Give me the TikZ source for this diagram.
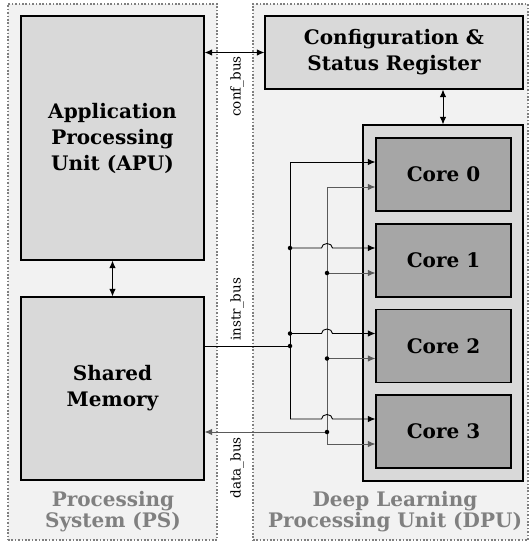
\documentclass[tikz,border=0pt]{standalone}
\usepackage{fontspec}
\setmainfont{DejaVu Serif}
\usetikzlibrary{arrows.meta,calc}
\definecolor{contf}{HTML}{F2F2F2}
\definecolor{boxf}{HTML}{D9D9D9}
\definecolor{coref}{HTML}{A6A6A6}
\definecolor{titlec}{HTML}{808080}
\definecolor{datac}{HTML}{5A5A5A}
\definecolor{dotc}{HTML}{7F7F7F}
\begin{document}
\begin{tikzpicture}[x=1pt,y=-1pt,
  container/.style={draw=dotc, line width=1.2pt, dash pattern=on 1.6pt off 1.8pt, fill=contf, inner sep=0pt},
  blk/.style={draw=black, line width=1.2pt, fill=boxf, inner sep=0pt, align=center, font=\bfseries\fontsize{20}{26}\selectfont},
  corebox/.style={blk, fill=coref},
  ttl/.style={text=titlec, align=center, font=\bfseries\fontsize{20}{21}\selectfont, inner sep=0pt},
  lbl/.style={rotate=90, inner sep=1pt, font=\fontsize{13.5}{16}\selectfont},
  ln/.style={line width=0.9pt, black},
  arr/.style={ln, -{Latex[length=7.5pt,width=6.5pt]}},
  barr/.style={ln, {Latex[length=7.5pt,width=6.5pt]}-{Latex[length=7.5pt,width=6.5pt]}},
  dln/.style={line width=0.9pt, datac},
  darr/.style={dln, -{Latex[length=7.5pt,width=6.5pt]}},
  jdot/.style={circle, fill=black, inner sep=0pt, minimum size=4.5pt}
]
\useasboundingbox (0,0) rectangle (530,544);
\fill[white] (0,0) rectangle (530,544);

% containers
\node[container, minimum width=209pt, minimum height=536pt] (ps) at (112.5,272) {};
\node[container, minimum width=275pt, minimum height=536pt] (dpu) at (390.5,272) {};

% blocks
\node[blk, minimum width=183pt, minimum height=244pt] (apu) at (112.5,138) {Application\\Processing\\Unit (APU)};
\node[blk, minimum width=183pt, minimum height=183pt] (sm) at (112.5,388.5) {Shared\\Memory};
\node[blk, minimum width=258pt, minimum height=73pt] (csr) at (394,52.5) {Configuration \&\\Status Register};
\node[blk, minimum width=160pt, minimum height=356pt] (cores) at (443,303) {};
\node[corebox, minimum width=135pt, minimum height=73pt] (core0) at (443.5,174.5) {Core 0};
\node[corebox, minimum width=135pt, minimum height=73pt] (core1) at (443.5,260.5) {Core 1};
\node[corebox, minimum width=135pt, minimum height=73pt] (core2) at (443.5,346) {Core 2};
\node[corebox, minimum width=135pt, minimum height=73pt] (core3) at (443.5,431.5) {Core 3};

% titles
\node[ttl] (pst) at (113,512) {Processing\\System (PS)};
\node[ttl] (dput) at (395,512) {Deep Learning\\Processing Unit (DPU)};

% core input points
\foreach \i in {0,1,2,3}{
  \coordinate (c\i a) at ([yshift=12.5pt]core\i.west);
  \coordinate (c\i b) at ([yshift=-12.5pt]core\i.west);
}
\coordinate (ib) at (290,346);
\coordinate (db) at (327,432);

% conf bus & links
\draw[barr] (apu.east |- csr.west) -- (csr.west);
\draw[barr] (apu.south) -- (sm.north);
\draw[barr] (cores.north |- csr.south) -- (cores.north);

% data bus
\draw[darr] (db) -- (sm.east |- db);
\draw[darr] (db) |- (c0b);
\draw[darr] (db) |- (c3b);
\draw[darr] (db |- c1b) -- (c1b);
\draw[darr] (db |- c2b) -- (c2b);
\node[jdot] (d1) at (db |- c1b) {};
\node[jdot] (d2) at (db |- c2b) {};
\node[jdot] (d3) at (db) {};

% instr bus
\draw[ln] (sm.east |- ib) -- (ib);
\draw[arr] (ib) |- (c0a);
\draw[ln] (ib) -- (ib |- c3a);
\foreach \i in {1,2,3}{
  \draw[arr] (ib |- c\i a) -- ($(db |- c\i a)+(-5.5,0)$)
     arc[start angle=180, end angle=360, x radius=5.5, y radius=4.5] -- (c\i a);
}
\node[jdot] (i0) at (ib) {};
\node[jdot] (i1) at (ib |- c1a) {};
\node[jdot] (i2) at (ib |- c2a) {};

% bus labels
\node[lbl, anchor=east] (confl) at (237,55) {conf\_bus};
\node[lbl, anchor=west] (instrl) at (237,342) {instr\_bus};
\node[lbl, anchor=east] (datal) at (237,436) {data\_bus};
\end{tikzpicture}
\end{document}
